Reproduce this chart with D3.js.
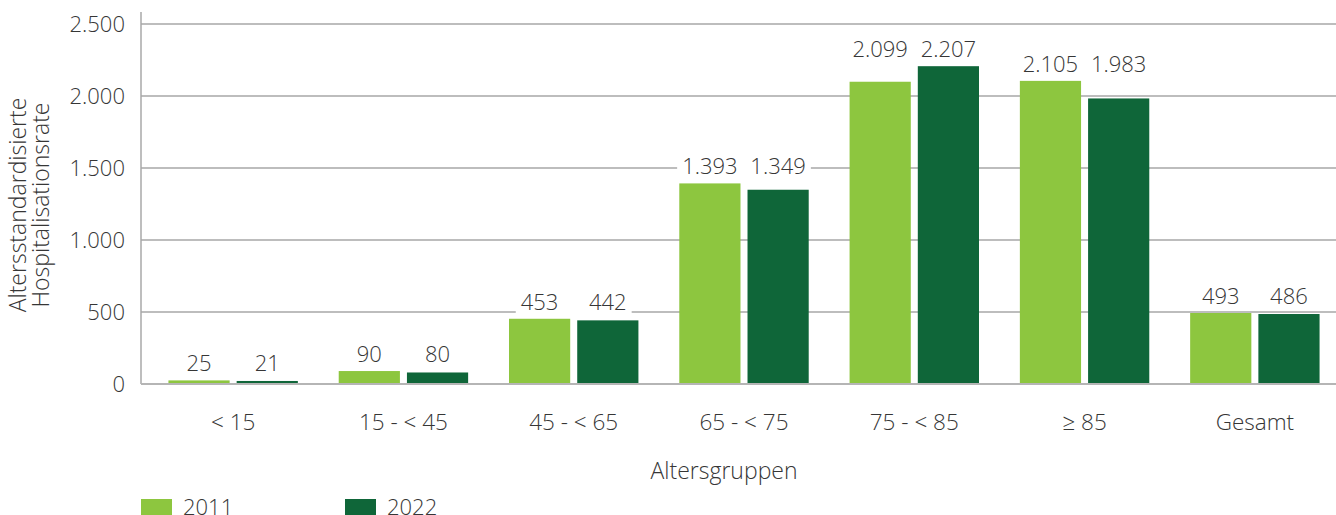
<!DOCTYPE html>
<html>
<head>
<meta charset="utf-8">
<script src="https://cdn.jsdelivr.net/npm/d3@7"></script>
<style>
  body { margin: 0; background: #fff; }
  svg { display: block; font-family: "Open Sans", Lato, sans-serif; font-weight: 300; }
  text { fill: #363636; }
</style>
</head>
<body>
<svg width="1336" height="515"></svg>
<script>
var categories = ["< 15", "15 - < 45", "45 - < 65", "65 - < 75", "75 - < 85", "≥ 85", "Gesamt"];
var seriesNames = ["2011", "2022"];
var values2011 = [25, 90, 453, 1393, 2099, 2105, 493];
var values2022 = [21, 80, 442, 1349, 2207, 1983, 486];
var yTicks = [0, 500, 1000, 1500, 2000, 2500];
var colors = ["#8dc63f", "#0f6639"];

var svg = d3.select("svg"),
    width = +svg.attr("width"),
    height = +svg.attr("height");

var plotLeft = 141, plotRight = 1336, plotTop = 24, plotBottom = 384;

var fmt = function(v) { return d3.format(",")(v).replace(/,/g, "."); };

var x0 = d3.scaleBand()
    .domain(categories)
    .range([148, 1340])
    .paddingInner(0.24)
    .paddingOuter(0.12);

var x1 = d3.scaleBand()
    .domain(seriesNames)
    .range([0, x0.bandwidth()])
    .paddingInner(0.103);

var y = d3.scaleLinear()
    .domain([0, 2500])
    .range([plotBottom, plotTop]);

// gridlines
svg.append("g")
  .selectAll("line")
  .data(yTicks)
  .enter().append("line")
    .attr("x1", plotLeft)
    .attr("x2", plotRight)
    .attr("y1", function(d) { return y(d); })
    .attr("y2", function(d) { return y(d); })
    .style("stroke", "#bdbdbd")
    .style("stroke-width", 2);

// left axis line
svg.append("line")
    .attr("x1", plotLeft).attr("x2", plotLeft)
    .attr("y1", 12).attr("y2", plotBottom)
    .style("stroke", "#a8a8a8")
    .style("stroke-width", 1.5);

// y tick labels
svg.append("g")
  .selectAll("text")
  .data(yTicks)
  .enter().append("text")
    .attr("x", 125)
    .attr("y", function(d) { return y(d); })
    .attr("dy", "0.36em")
    .attr("text-anchor", "end")
    .style("font-size", "22px")
    .text(fmt);

// y axis title
var yt = svg.append("text")
    .attr("transform", "translate(26,205) rotate(-90)")
    .attr("text-anchor", "middle")
    .style("font-size", "23px");
yt.append("tspan").attr("x", 0).attr("dy", 0).text("Altersstandardisierte");
yt.append("tspan").attr("x", 0).attr("dy", "1em").text("Hospitalisationsrate");

var rows = categories.map(function(c, i) {
  return { cat: c, vals: [values2011[i], values2022[i]] };
});

var groups = svg.append("g")
  .selectAll("g")
  .data(rows)
  .enter().append("g")
    .attr("transform", function(d) { return "translate(" + x0(d.cat) + ",0)"; });

groups.selectAll("rect")
  .data(function(d) { return d.vals.map(function(v, j) { return { key: seriesNames[j], v: v, j: j }; }); })
  .enter().append("rect")
    .attr("x", function(d) { return x1(d.key); })
    .attr("width", x1.bandwidth())
    .attr("y", function(d) { return y(d.v); })
    .attr("height", function(d) { return y(0) - y(d.v); })
    .style("fill", function(d) { return colors[d.j]; });

// value labels, placed above the taller bar of each group, with white backing
groups.each(function(d) {
  var g = d3.select(this);
  var ly = y(d3.max(d.vals)) - 9;
  var bg = g.append("rect").style("fill", "#fff");
  var labels = g.selectAll("text.val")
    .data(d.vals)
    .enter().append("text")
      .attr("class", "val")
      .attr("x", function(v, j) { return x1(seriesNames[j]) + x1.bandwidth() / 2; })
      .attr("y", ly)
      .attr("text-anchor", "middle")
      .style("font-size", "22px")
      .text(fmt);
  var x0b = Infinity, x1b = -Infinity, y0b = Infinity, y1b = -Infinity;
  labels.each(function() {
    var b = this.getBBox();
    x0b = Math.min(x0b, b.x); x1b = Math.max(x1b, b.x + b.width);
    y0b = Math.min(y0b, b.y); y1b = Math.max(y1b, b.y + b.height);
  });
  bg.attr("x", x0b - 5).attr("width", x1b - x0b + 10)
    .attr("y", y0b).attr("height", y1b - y0b);
});

// baseline
svg.append("line")
    .attr("x1", plotLeft).attr("x2", plotRight)
    .attr("y1", plotBottom).attr("y2", plotBottom)
    .style("stroke", "#b5b5b5")
    .style("stroke-width", 2);

// x tick labels
svg.append("g")
  .selectAll("text")
  .data(categories)
  .enter().append("text")
    .attr("x", function(d) { return x0(d) + x0.bandwidth() / 2; })
    .attr("y", 430)
    .attr("text-anchor", "middle")
    .style("font-size", "22.5px")
    .text(function(d) { return d; });

// x axis title
svg.append("text")
    .attr("x", 724)
    .attr("y", 479)
    .attr("text-anchor", "middle")
    .style("font-size", "23px")
    .text("Altersgruppen");

// legend
var legend = svg.append("g")
  .selectAll("g")
  .data(seriesNames)
  .enter().append("g")
    .attr("transform", function(d, i) { return "translate(" + (141 + i * 204) + ",499)"; });

legend.append("rect")
    .attr("width", 31)
    .attr("height", 18)
    .style("fill", function(d, i) { return colors[i]; });

legend.append("text")
    .attr("x", 42)
    .attr("y", 16)
    .style("font-size", "22px")
    .text(function(d) { return d; });
</script>
</body>
</html>
